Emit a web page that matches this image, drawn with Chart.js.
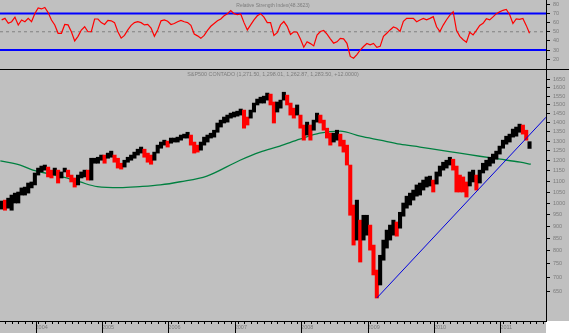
<!DOCTYPE html>
<html>
<head>
<meta charset="utf-8">
<script src="https://cdn.jsdelivr.net/npm/chart.js@4.4.0/dist/chart.umd.min.js"></script>
<style>
  html, body { margin: 0; padding: 0; background: #fff; }
  #wrap { position: relative; width: 569px; height: 333px; }
  #rsi_graph { position: absolute; left: 0; top: 0; }
  #sep { position: absolute; left: 0; top: 69px; width: 569px; height: 1px; background: #000; }
  #price_graph { position: absolute; left: 0; top: 70px; }
</style>
</head>
<body>
<div id="wrap">
  <canvas id="rsi_graph" width="569" height="69"></canvas>
  <div id="sep"></div>
  <canvas id="price_graph" width="569" height="263"></canvas>
</div>
<script>
// bars every 0.05 year from mid 2003
const firstBar = 2003.49;
const barStep = 0.05;

// bar highs / lows (last bar comes from lastBar below)
const highs = [
  1009,1013,1022,1036,1045,1050,1069,1073,1092,1097,
  1140,1164,1174,1179,1169,1154,1164,1154,1145,1164,
  1154,1130,1116,1130,1145,1154,1154,1213,1213,1218,
  1229,1229,1239,1249,1229,1213,1188,1203,1218,1229,
  1244,1259,1270,1259,1239,1229,1244,1280,1296,1306,
  1301,1317,1317,1322,1333,1338,1348,1333,1296,1280,
  1296,1322,1333,1343,1359,1398,1414,1431,1442,1453,
  1459,1464,1476,1470,1431,1470,1510,1533,1544,1550,
  1568,1562,1516,1516,1527,1573,1556,1510,1481,1499,
  1442,1387,1403,1387,1414,1453,1442,1414,1370,1343,
  1343,1359,1338,1306,1280,1179,991,1013,925,946,
  946,904,822,726,782,842,883,904,925,917,
  959,1000,1031,1045,1059,1083,1092,1106,1121,1125,
  1106,1145,1174,1193,1203,1218,1208,1174,1130,1121,
  1097,1145,1154,1130,1154,1188,1203,1218,1234,1249,
  1275,1306,1327,1338,1365,1376,1392,1387,1359
];
const lows = [
  973,968,977,968,1000,1000,1036,1036,1045,1069,
  1083,1130,1145,1154,1121,1116,1130,1092,1116,1145,
  1121,1097,1073,1083,1116,1121,1106,1106,1188,1188,
  1203,1188,1213,1218,1193,1164,1159,1169,1193,1203,
  1213,1229,1239,1218,1193,1183,1203,1239,1264,1280,
  1270,1290,1296,1296,1306,1317,1317,1280,1239,1244,
  1254,1280,1296,1317,1322,1348,1376,1398,1403,1425,
  1431,1436,1442,1370,1387,1425,1459,1499,1510,1510,
  1527,1499,1398,1459,1481,1527,1499,1442,1425,1442,
  1370,1306,1333,1306,1359,1403,1398,1359,1317,1280,
  1296,1306,1275,1244,1179,946,822,842,756,842,
  862,802,708,627,672,763,810,842,862,858,
  891,942,977,991,1013,1031,1036,1059,1073,1078,
  1050,1087,1125,1154,1164,1179,1154,1050,1050,1050,
  1027,1078,1097,1059,1092,1140,1154,1174,1188,1208,
  1234,1264,1285,1296,1322,1327,1348,1338,1306
];
// open, high, low, close, change
const lastBar = [1271.50, 1298.01, 1262.87, 1283.50, 12.0000];

// RSI at each bar (last value from rsiLast)
const rsi = [
  63,64.7,59.3,61,66,57.4,62.9,61,64.7,61,
  70,76,75,76.7,71,62.9,57.4,48.3,48.3,58,
  57.5,50,40,45,51.9,55.5,50,50,64,64,
  60,58,62.5,62,60,50,43,46,52,57,
  60,61,60,57.5,58,54,45,52,62,62.9,
  61.5,58,59,61,62.5,61,60,57,47.5,45.5,
  42.8,46,51.5,56,59,62,64,67.5,69.8,73.1,
  69.8,68.8,69.5,60,52,57.5,63,67.5,69.8,66,
  60,60,46,49,57.5,61.2,56,47,50,49.5,
  42,33,39,37,34.5,46.4,50.3,51.4,47.5,42.3,
  37.5,39,42.8,42.3,37.3,23,21,25,30,33.8,
  37.2,35.6,37.2,33,34,45,48.4,52,55.2,53.8,
  50.4,61.4,64.7,64.7,64.7,61,62.9,64.7,63,64.7,
  66.5,55.5,50.2,57.3,63.2,68.3,72,51.5,45,41.3,
  38.5,49.5,46.6,51.5,57,59.2,64.2,63,66.3,69.8,
  71.8,73.5,74.5,69,59,64,63.5,64.5,57
];
const rsiLast = 48.3623;
const rsiLevels = [70, 50, 30];

// long moving average
const maDates = [2003.47,2003.77,2003.96,2004.22,2004.47,2004.67,2004.93,2005.27,2005.57,2005.88,
  2006.18,2006.58,2007.08,2007.38,2007.68,2007.98,2008.28,2008.59,2008.89,2009.19,
  2009.49,2009.79,2010.09,2010.39,2010.69,2011.00,2011.30,2011.46];
const maValues = [1200,1179,1154,1135,1116,1097,1075,1070,1075,1083,
  1098,1125,1203,1244,1275,1311,1343,1354,1327,1306,
  1285,1270,1254,1239,1223,1208,1193,1183];

// support line from the 2009 low
const trendDates = [2009.14, 2011.688];
const trendValues = [627, 1430];

const priceTicks = [650,700,750,800,850,900,950,1000,1050,1100,1150,1200,1250,1300,1350,1400,1450,1500,1550,1600,1650];
const rsiTicks = [20,30,40,50,60,70,80];
const yearLabels = [2004,2005,2006,2007,2008,2009,2010,2011];

const xMin = 2003.465, xMax = 2011.688;
const POWER = 0.4;
const labelFont = { family: 'Liberation Sans', size: 5.5 };
const labelColor = '#7c7c7c';

// full bar list: 159 read bars + the last one
const barHighs = highs.concat([lastBar[1]]);
const barLows = lows.concat([lastBar[2]]);
const dates = barHighs.map((_, i) => firstBar + i * barStep);
const rsiAll = rsi.concat([rsiLast]);

const barColors = barHighs.map((h, i) => {
  if (i === barHighs.length - 1) return lastBar[3] >= lastBar[0] ? '#000000' : '#ff0000';
  if (i === 0) return '#000000';
  const mid = (h + barLows[i]) / 2, prev = (barHighs[i - 1] + barLows[i - 1]) / 2;
  return mid >= prev ? '#000000' : '#ff0000';
});

// price axis squeezed like the original software (between linear and log)
class PowerScale extends Chart.LinearScale {
  getPixelForValue(value) {
    const lo = Math.pow(this.min, POWER), hi = Math.pow(this.max, POWER);
    return this.getPixelForDecimal((Math.pow(value, POWER) - lo) / (hi - lo));
  }
  getValueForPixel(pixel) {
    const lo = Math.pow(this.min, POWER), hi = Math.pow(this.max, POWER);
    return Math.pow(lo + this.getDecimalForPixel(pixel) * (hi - lo), 1 / POWER);
  }
}
PowerScale.id = 'power';
PowerScale.defaults = Chart.LinearScale.defaults;
Chart.register(PowerScale);

const panelFill = {
  id: 'panelFill',
  beforeDraw(chart, args, opts) {
    const { ctx, width, height, chartArea } = chart;
    ctx.save();
    ctx.fillStyle = '#c0c0c0';
    ctx.fillRect(0, 0, width, height);
    if (opts.whiteCorner) {
      ctx.fillStyle = '#ffffff';
      ctx.fillRect(chartArea.right, chartArea.bottom, width - chartArea.right, height - chartArea.bottom);
    }
    ctx.restore();
  }
};

const panelTitle = {
  id: 'panelTitle',
  afterDatasetsDraw(chart, args, opts) {
    const { ctx, chartArea } = chart;
    ctx.save();
    ctx.font = opts.size + 'px "Liberation Sans"';
    ctx.fillStyle = labelColor;
    ctx.textAlign = 'center';
    ctx.textBaseline = 'middle';
    ctx.fillText(opts.text, (chartArea.left + chartArea.right) / 2, chartArea.top + opts.offset);
    ctx.restore();
  }
};

// long ticks at each new year
const yearMarks = {
  id: 'yearMarks',
  afterDraw(chart) {
    const { ctx, chartArea, height } = chart;
    const x = chart.scales.x;
    ctx.save();
    ctx.strokeStyle = '#000';
    ctx.lineWidth = 1;
    yearLabels.forEach(yr => {
      const px = Math.round(x.getPixelForValue(yr)) + 0.5;
      ctx.beginPath();
      ctx.moveTo(px, chartArea.bottom);
      ctx.lineTo(px, height);
      ctx.stroke();
    });
    ctx.restore();
  }
};

function fitRight(scale) {
  scale.width = 23;
  scale.paddingTop = 0;
  scale.paddingBottom = 0;
}

function xTicks(scale) {
  const t = [];
  for (let k = Math.ceil(xMin * 10); k <= Math.floor(xMax * 10); k++) t.push({ value: k / 10 });
  scale.ticks = t;
}

// RSI panel
var rsiChart = new Chart(document.getElementById('rsi_graph'), {
  type: 'line',
  data: {
    datasets: [
      {
        data: dates.map((d, i) => ({ x: d, y: rsiAll[i] })),
        borderColor: '#ff0000',
        borderWidth: 1.2,
        pointRadius: 0,
        order: 1
      },
      ...rsiLevels.map(lv => ({
        data: [{ x: xMin, y: lv }, { x: xMax, y: lv }],
        borderColor: lv === 50 ? '#808080' : '#0000ff',
        borderWidth: lv === 50 ? 1 : 2,
        borderDash: lv === 50 ? [3, 3] : [],
        pointRadius: 0,
        order: 2
      }))
    ]
  },
  options: {
    responsive: false,
    animation: false,
    events: [],
    devicePixelRatio: 1,
    layout: { padding: 0 },
    scales: {
      x: { type: 'linear', min: xMin, max: xMax, display: false },
      y: {
        position: 'right',
        min: 9.2,
        max: 84.8,
        afterBuildTicks: s => { s.ticks = rsiTicks.map(v => ({ value: v })); },
        afterFit: fitRight,
        grid: { drawOnChartArea: false, tickLength: 4, tickColor: '#000' },
        border: { color: '#000', width: 1 },
        ticks: { font: labelFont, color: labelColor, padding: 3, autoSkip: false, callback: v => String(v) }
      }
    },
    plugins: {
      legend: { display: false },
      tooltip: { enabled: false },
      panelFill: { whiteCorner: false },
      panelTitle: { text: 'Relative Strength Index(' + rsiLast.toFixed(4) + ')', size: 5, offset: 5.5 }
    }
  },
  plugins: [panelFill, panelTitle]
});

const fmt = v => v.toLocaleString('en-US', { minimumFractionDigits: 2, maximumFractionDigits: 2 });
const priceTitle = 'S&P500 CONTADO (' + lastBar.slice(0, 4).map(fmt).join(', ') +
  ', +' + lastBar[4].toFixed(4) + ')';

// price panel
var priceChart = new Chart(document.getElementById('price_graph'), {
  type: 'bar',
  data: {
    datasets: [
      {
        type: 'line',
        data: maDates.map((d, i) => ({ x: d, y: maValues[i] })),
        borderColor: '#008040',
        borderWidth: 1.3,
        pointRadius: 0,
        cubicInterpolationMode: 'monotone',
        order: 3
      },
      {
        data: dates.map((d, i) => ({ x: d, y: [barLows[i], barHighs[i]] })),
        backgroundColor: barColors,
        borderWidth: 0,
        borderSkipped: false,
        barThickness: 3.4,
        grouped: false,
        order: 2
      },
      {
        type: 'line',
        data: trendDates.map((d, i) => ({ x: d, y: trendValues[i] })),
        borderColor: '#0000dd',
        borderWidth: 1,
        pointRadius: 0,
        order: 1
      }
    ]
  },
  options: {
    responsive: false,
    animation: false,
    events: [],
    devicePixelRatio: 1,
    layout: { padding: 0 },
    scales: {
      x: {
        type: 'linear',
        min: xMin,
        max: xMax,
        offset: false,
        afterBuildTicks: xTicks,
        afterFit: s => { s.height = 12; s.paddingLeft = 0; s.paddingRight = 0; },
        grid: { drawOnChartArea: false, tickLength: 3, tickColor: '#000' },
        border: { color: '#000', width: 1 },
        ticks: {
          font: labelFont,
          color: labelColor,
          padding: 0,
          align: 'start',
          maxRotation: 0,
          autoSkip: false,
          callback: v => {
            const yr = Math.round(v * 10) / 10;
            return yearLabels.includes(yr) ? String(yr) : '';
          }
        }
      },
      y: {
        type: 'power',
        position: 'right',
        min: 552,
        max: 1707,
        afterBuildTicks: s => { s.ticks = priceTicks.map(v => ({ value: v })); },
        afterFit: fitRight,
        grid: { drawOnChartArea: false, tickLength: 4, tickColor: '#000' },
        border: { color: '#000', width: 1 },
        ticks: { font: labelFont, color: labelColor, padding: 3, autoSkip: false, callback: v => String(v) }
      }
    },
    plugins: {
      legend: { display: false },
      tooltip: { enabled: false },
      panelFill: { whiteCorner: true },
      panelTitle: { text: priceTitle, size: 5.4, offset: 4.3 }
    }
  },
  plugins: [panelFill, panelTitle, yearMarks]
});
</script>
</body>
</html>
